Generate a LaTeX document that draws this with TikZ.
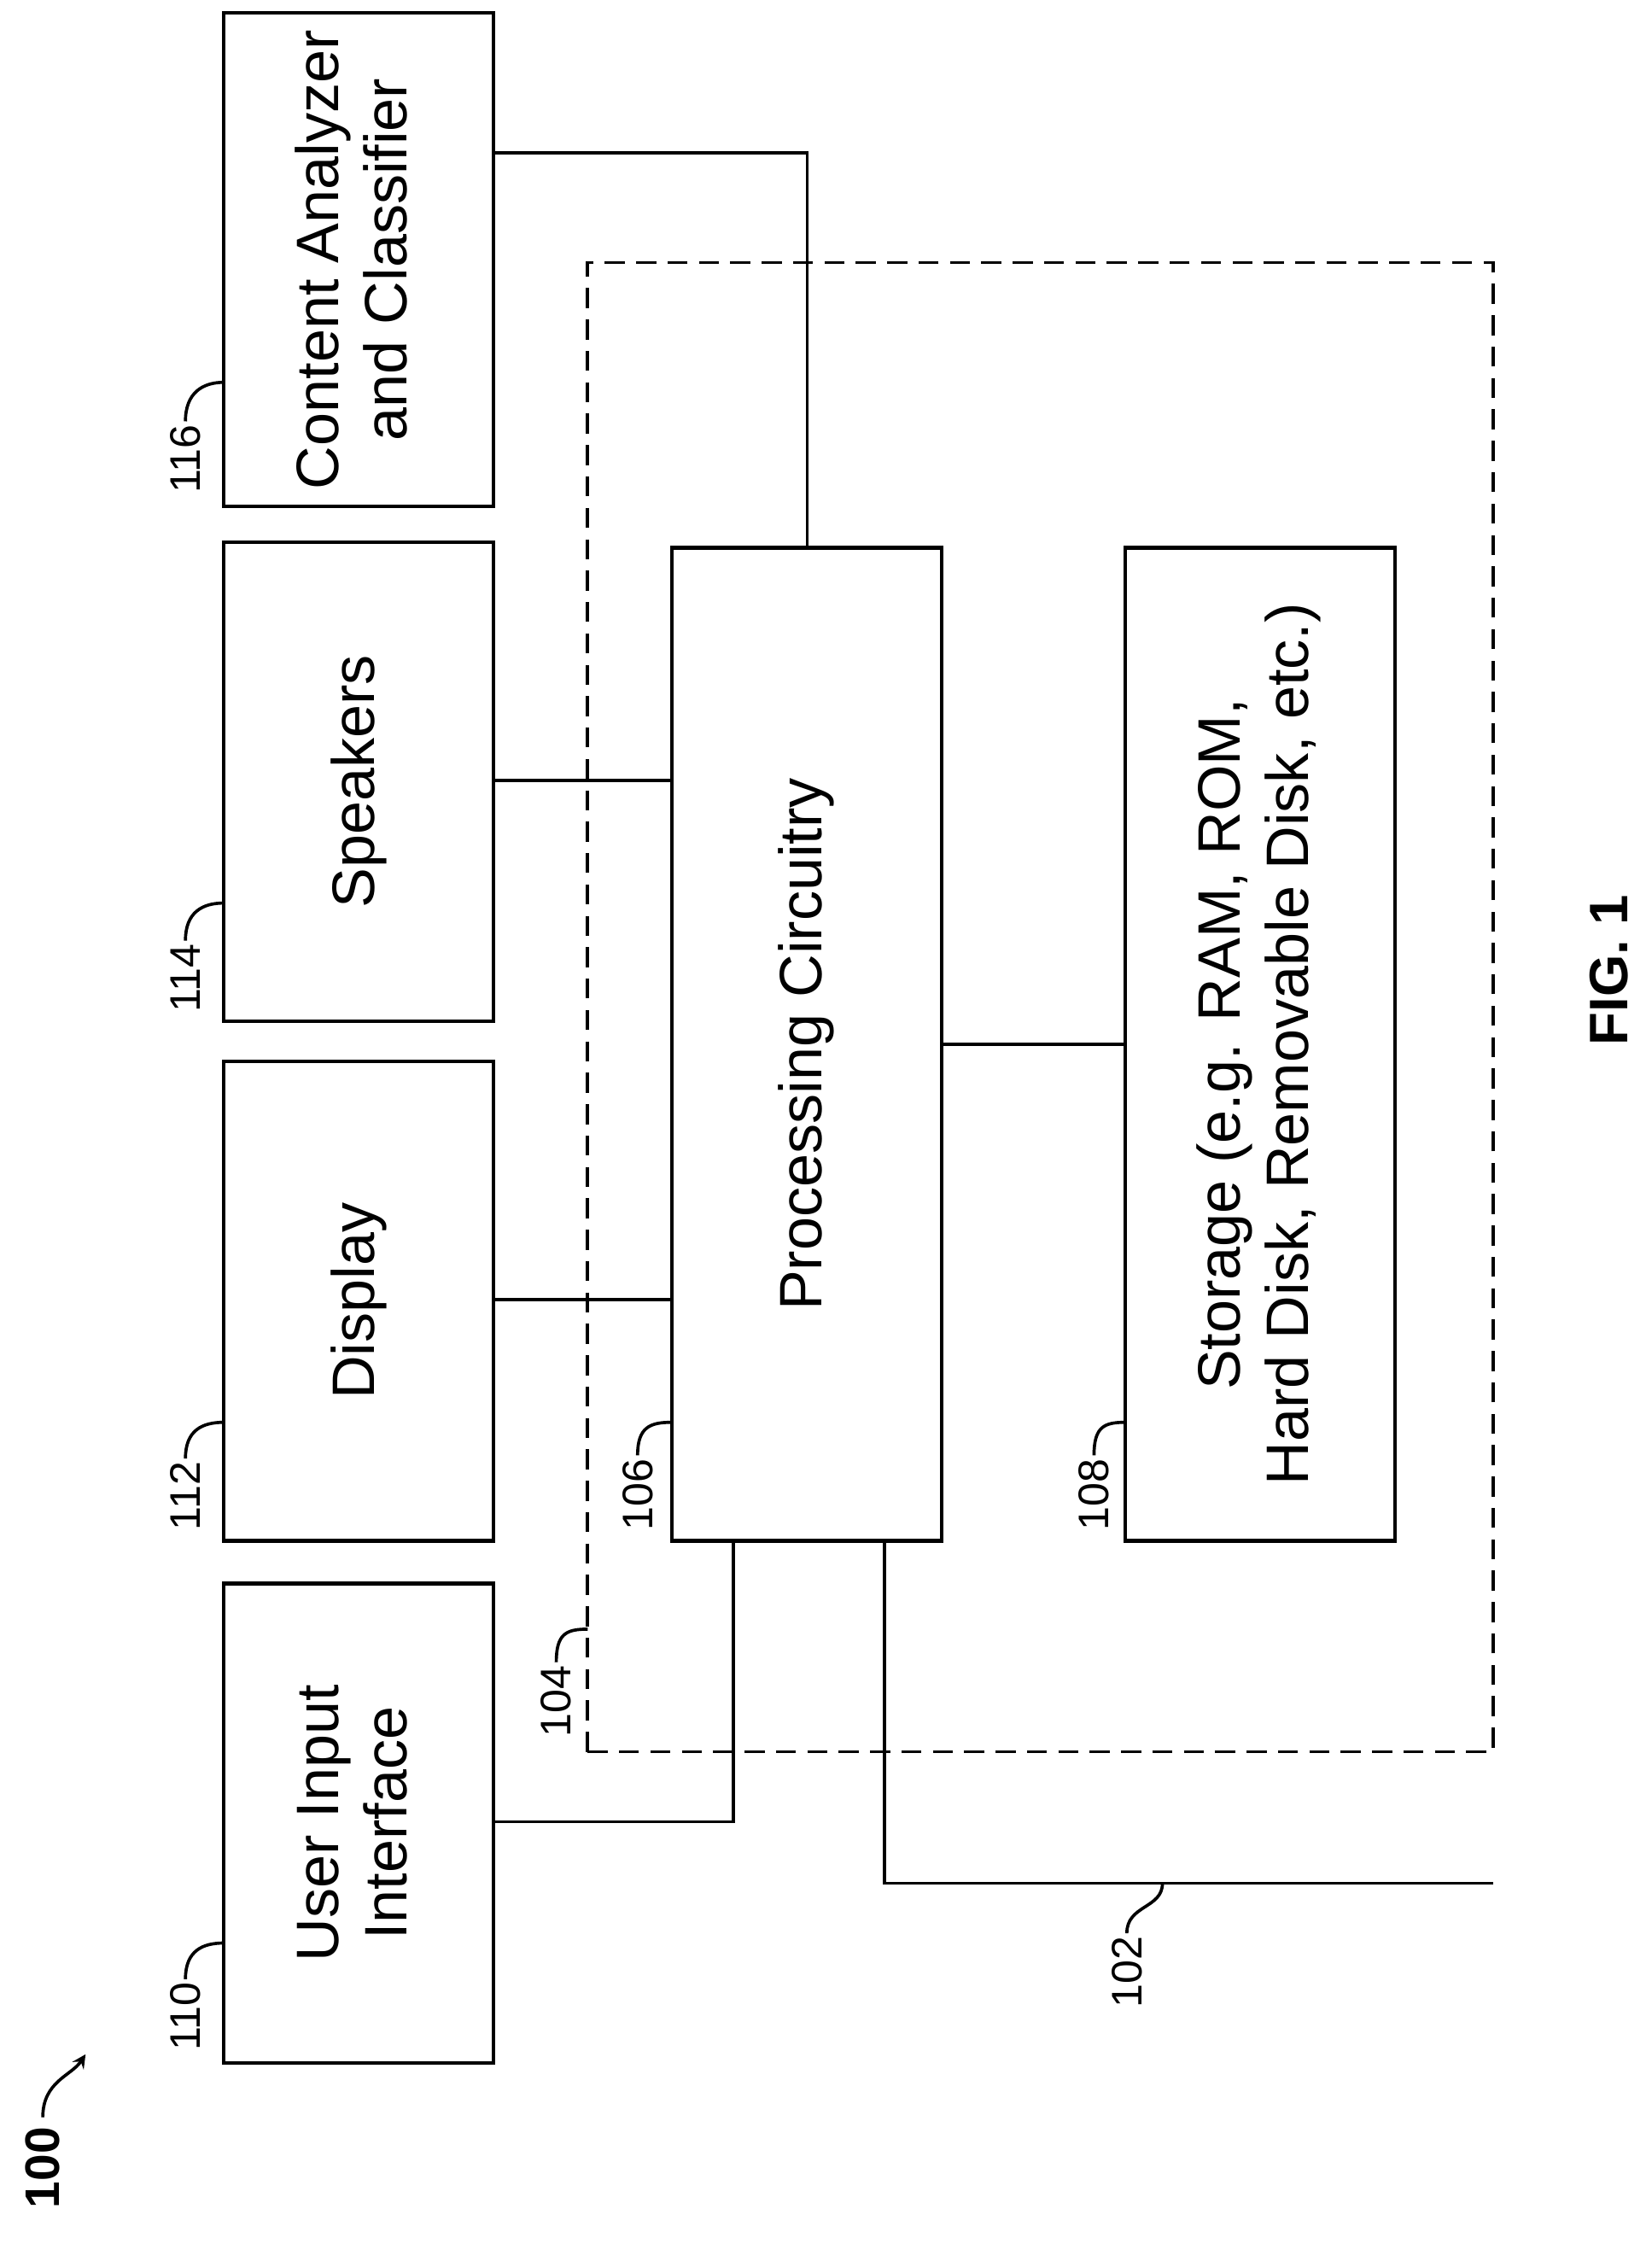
\documentclass[tikz,border=0pt]{standalone}
\usepackage{fontspec}
\setmainfont{Liberation Sans}
\begin{document}
\begin{tikzpicture}[x=0.5pt,y=-0.5pt,
 box/.style={draw,line width=1.3pt,inner sep=0pt,font=\fontsize{21}{24}\selectfont,minimum width=94.5pt,minimum height=168pt},
 lab/.style={font=\fontsize{15}{18}\selectfont,rotate=90,inner sep=1pt},
 ln/.style={line width=1.1pt}]
\useasboundingbox (0,0) rectangle (1158,1573);
\node[box] (ca) at (251.5,182) {\rotatebox{90}{\begin{tabular}{c}Content Analyzer\\and Classifier\end{tabular}}};
\node[box] (sp) at (251.5,548) {\rotatebox{90}{Speakers}};
\node[box] (di) at (251.5,912) {\rotatebox{90}{Display}};
\node[box] (ui) at (251.5,1278) {\rotatebox{90}{\begin{tabular}{c}User Input\\Interface\end{tabular}}};
\node[draw,dashed,line width=1.1pt,dash pattern=on 7pt off 4pt,minimum width=317.5pt,minimum height=522pt] (d104) at (729.5,706) {};
\node[box,minimum height=348pt] (pc) at (565.5,732) {\rotatebox{90}{Processing Circuitry}};
\node[box,minimum height=348pt] (st) at (883.5,732) {\rotatebox{90}{\begin{tabular}{c}Storage (e.g. RAM, ROM,\\Hard Disk, Removable Disk, etc.)\end{tabular}}};
\draw[ln] (ca.east |- 0,107) -| (pc.north -| 566,0);
\draw[ln] (sp.east |- 0,547) -- (pc.west |- 0,547);
\draw[ln] (di.east |- 0,911) -- (pc.west |- 0,911);
\draw[ln] (pc.east) -- (st.west);
\draw[ln] (ui.east |- 0,1277) -| (pc.south -| 514,0);
\coordinate (e102) at (1047,1320);
\draw[ln] (pc.south -| 620,0) |- (e102);
% labels
\foreach \n/\x/\y/\tx/\ty in {116/130/348/157/268, 114/130/712/157/633, 112/130/1075/157/997, 110/130/1440/157/1362, 106/447/1075/471/997, 108/767/1075/789/997, 104/390/1220/412/1142}{
 \node[lab,anchor=west] (l\n) at (\x,\y) {\n};
 \draw[ln] (l\n.east) .. controls ++(0,-20) and ++(-15,0) .. (\tx,\ty);
}
\node[lab,anchor=west] (l102) at (790,1410) {102};
\draw[ln] (l102.east) .. controls ++(0,-20) and ++(0,18) .. (815,1320);
\node[font=\bfseries\fontsize{17}{20}\selectfont,rotate=90,anchor=west] (l100) at (30,1555) {100};
\draw[ln,-stealth] (l100.east) .. controls ++(0,-25) and ++(-10,15) .. (60,1440);
\node[font=\bfseries\fontsize{19}{22}\selectfont,rotate=90] (fig) at (1128,680) {FIG. 1};
\end{tikzpicture}
\end{document}
